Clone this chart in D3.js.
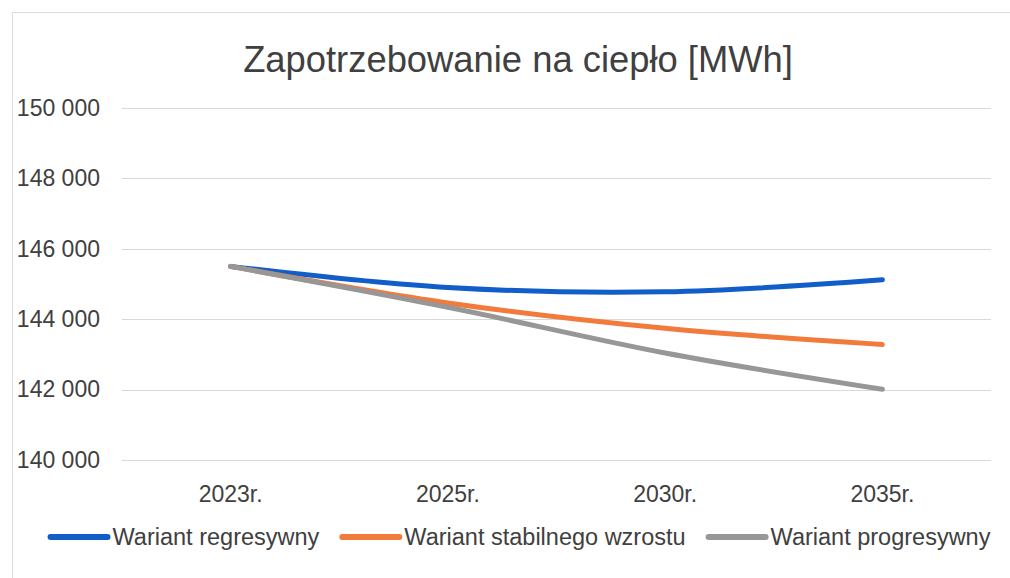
<!DOCTYPE html>
<html>
<head>
<meta charset="utf-8">
<script src="https://cdn.jsdelivr.net/npm/d3@7"></script>
<style>
  html, body { margin: 0; padding: 0; background: #fff; }
  svg { display: block; font-family: "Liberation Sans", Arial, sans-serif; }
</style>
</head>
<body>
<svg id="chart" width="1010" height="578"></svg>
<script>
  // Chart data
  const categories = ['2023r.', '2025r.', '2030r.', '2035r.'];
  const regresywny = [145500, 144900, 144780, 145120];
  const stabilny   = [145500, 144460, 143740, 143280];
  const progresywny = [145500, 144340, 143040, 142010];
  const yTicks = [140000, 142000, 144000, 146000, 148000, 150000];

  const series = [
    { name: 'Wariant regresywny', values: regresywny, color: '#125ec8' },
    { name: 'Wariant stabilnego wzrostu', values: stabilny, color: '#f27a3a' },
    { name: 'Wariant progresywny', values: progresywny, color: '#979797' },
  ];

  const TEXT = '#404040';
  const svg = d3.select('#chart');

  // Chart area border (only top & left are visible in the picture)
  svg.append('rect')
    .attr('x', 12.5).attr('y', 12.5)
    .attr('width', 1020).attr('height', 600)
    .attr('fill', 'none')
    .attr('stroke', '#dcdcdc');

  const plot = { left: 122, right: 991, top: 108, bottom: 460 };

  const x = d3.scaleBand()
    .domain(categories)
    .range([plot.left, plot.right]);

  const y = d3.scaleLinear()
    .domain([140000, 150000])
    .range([plot.bottom, plot.top]);

  const fmt = v => d3.format(',')(v).replace(/,/g, ' ');

  // Gridlines
  svg.append('g')
    .selectAll('line')
    .data(yTicks)
    .enter().append('line')
    .attr('x1', plot.left).attr('x2', plot.right)
    .attr('y1', d => Math.round(y(d)) + 0.5)
    .attr('y2', d => Math.round(y(d)) + 0.5)
    .attr('stroke', '#d9d9d9')
    .attr('stroke-width', 1);

  // Y axis labels
  const yAxis = d3.axisLeft(y).tickValues(yTicks).tickFormat(fmt).tickSize(0).tickPadding(0);
  svg.append('g')
    .attr('transform', 'translate(100,0)')
    .call(yAxis)
    .call(g => g.select('.domain').remove())
    .call(g => g.selectAll('text')
      .attr('fill', TEXT)
      .attr('font-size', 23)
      .attr('font-family', '"Liberation Sans", Arial, sans-serif'));

  // X axis labels
  const xAxis = d3.axisBottom(x).tickSize(0).tickPadding(0);
  svg.append('g')
    .attr('transform', 'translate(0,486)')
    .call(xAxis)
    .call(g => g.select('.domain').remove())
    .call(g => g.selectAll('text')
      .attr('fill', TEXT)
      .attr('font-size', 23)
      .attr('font-family', '"Liberation Sans", Arial, sans-serif'));

  // Lines
  const line = d3.line()
    .x((d, i) => x(categories[i]) + x.bandwidth() / 2)
    .y(d => y(d))
    .curve(d3.curveCatmullRom.alpha(0.5));

  svg.append('g')
    .selectAll('path')
    .data(series)
    .enter().append('path')
    .attr('d', d => line(d.values))
    .attr('fill', 'none')
    .attr('stroke', d => d.color)
    .attr('stroke-width', 5)
    .attr('stroke-linecap', 'round')
    .attr('stroke-linejoin', 'round');

  // Title
  const title = svg.append('text')
    .attr('x', 518).attr('y', 72)
    .attr('text-anchor', 'middle')
    .attr('fill', TEXT)
    .attr('font-size', 36)
    .text('Zapotrzebowanie na ciepło [MWh]');
  const tw = title.node().getComputedTextLength();
  title.attr('font-size', 36 * 550 / tw);

  // Legend
  const legend = svg.append('g').attr('class', 'legend');
  let lx = 0;
  series.forEach((s, i) => {
    const item = legend.append('g').attr('transform', `translate(${lx},0)`);
    item.append('line')
      .attr('x1', 3).attr('x2', 60)
      .attr('y1', 0).attr('y2', 0)
      .attr('stroke', s.color)
      .attr('stroke-width', 6)
      .attr('stroke-linecap', 'round');
    const t = item.append('text')
      .attr('x', 65).attr('y', 8)
      .attr('fill', TEXT)
      .attr('font-size', 23.5)
      .text(s.name);
    lx += 65 + t.node().getComputedTextLength() + 20;
  });
  const legendWidth = lx - 20;
  legend.attr('transform', `translate(${519 - legendWidth / 2},537)`);
</script>
</body>
</html>
